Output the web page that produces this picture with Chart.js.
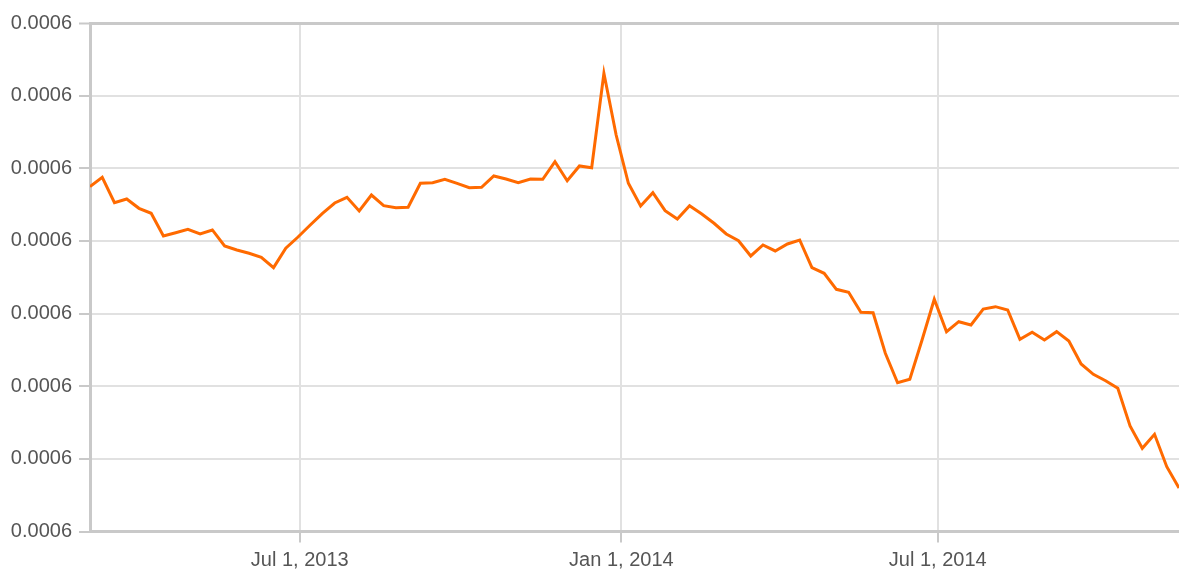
<!DOCTYPE html>
<html>
<head>
<meta charset="utf-8">
<script src="https://cdn.jsdelivr.net/npm/chart.js@4"></script>
<style>
  html, body { margin: 0; padding: 0; background: #fff; }
  #chart { display: block; }
</style>
</head>
<body>
<canvas id="chart" width="1179" height="574"></canvas>
<script>
// weekly series, first week starts Sunday Mar 3, 2013
const startDate = "2013-03-03";
const values = [
  0.00061747, 0.00061876, 0.00061526, 0.00061577, 0.00061449, 0.00061381, 0.00061068, 0.00061113,
  0.00061160, 0.00061096, 0.00061151, 0.00060930, 0.00060875, 0.00060830, 0.00060775, 0.00060632,
  0.00060899, 0.00061054, 0.00061219, 0.00061378, 0.00061522, 0.00061601, 0.00061412, 0.00061632,
  0.00061485, 0.00061458, 0.00061463, 0.00061793, 0.00061802, 0.00061849, 0.00061793, 0.00061733,
  0.00061738, 0.00061894, 0.00061853, 0.00061802, 0.00061853, 0.00061849, 0.00062091, 0.00061829,
  0.00062032, 0.00062008, 0.00063308, 0.00062458, 0.00061793, 0.00061481, 0.00061664, 0.00061416,
  0.00061302, 0.00061485, 0.00061371, 0.00061243, 0.00061096, 0.00061003, 0.00060793, 0.00060944,
  0.00060862, 0.00060958, 0.00061013, 0.00060632, 0.00060554, 0.00060334, 0.00060293, 0.00060018,
  0.00060012, 0.00059453, 0.00059048, 0.00059095, 0.00059636, 0.00060197, 0.00059751, 0.00059888,
  0.00059843, 0.00060063, 0.00060095, 0.00060049, 0.00059646, 0.00059742, 0.00059636, 0.00059751,
  0.00059623, 0.00059306, 0.00059164, 0.00059076, 0.00058971, 0.00058452, 0.00058145, 0.00058338,
  0.00057892, 0.00057599
];
const xTickDates = ["2013-07-01", "2014-01-01", "2014-07-01"];
const xTickLabels = ["Jul 1, 2013", "Jan 1, 2014", "Jul 1, 2014"];
const yTicks = [0.00057, 0.00058, 0.00059, 0.0006, 0.00061, 0.00062, 0.00063, 0.00064];

const DAY = 86400000;
const t0 = Date.parse(startDate);
const weeks = values.map((_, i) => t0 + i * 7 * DAY);
const points = values.map((v, i) => ({ x: weeks[i], y: v }));
const xTicks = xTickDates.map((d) => Date.parse(d));

const textColor = "#555";
const axisColor = "#c9c9c9";
const gridColor = "#e1e1e1";
const font = { family: "'Liberation Sans', Arial, sans-serif", size: 20 };

new Chart(document.getElementById("chart"), {
  type: "line",
  data: {
    datasets: [
      {
        data: points,
        borderColor: "#ff6a00",
        borderWidth: 3,
        pointRadius: 0,
        pointHoverRadius: 0,
        tension: 0,
        fill: false,
      },
    ],
  },
  options: {
    responsive: false,
    devicePixelRatio: 1,
    animation: false,
    layout: { padding: { top: 23, left: 0, right: 0, bottom: 0 } },
    plugins: {
      legend: { display: false },
      tooltip: { enabled: false },
    },
    scales: {
      x: {
        type: "linear",
        min: weeks[0],
        max: weeks[weeks.length - 1],
        afterBuildTicks: (scale) => {
          scale.ticks = xTicks.map((v) => ({ value: v }));
        },
        afterFit: (scale) => {
          scale.height = 42.5;
          scale.paddingLeft = 0;
          scale.paddingRight = 0;
        },
        ticks: {
          color: textColor,
          font: font,
          padding: 6,
          maxRotation: 0,
          autoSkip: false,
          callback: (value) => {
            const i = xTicks.indexOf(value);
            return i >= 0 ? xTickLabels[i] : "";
          },
        },
        grid: {
          color: gridColor,
          lineWidth: 2,
          tickLength: 11,
          tickColor: axisColor,
          tickWidth: 2,
        },
        border: { color: axisColor, width: 3 },
      },
      y: {
        min: yTicks[0],
        max: yTicks[yTicks.length - 1],
        afterBuildTicks: (scale) => {
          scale.ticks = yTicks.map((v) => ({ value: v }));
        },
        afterFit: (scale) => {
          scale.width = 90;
        },
        ticks: {
          color: textColor,
          font: font,
          padding: 7,
          callback: (value) => value.toFixed(4),
        },
        grid: {
          color: (ctx) => (ctx.tick && ctx.tick.value === yTicks[yTicks.length - 1] ? axisColor : gridColor),
          lineWidth: (ctx) => (ctx.tick && ctx.tick.value === yTicks[yTicks.length - 1] ? 3 : 2),
          tickLength: 11,
          tickColor: axisColor,
          tickWidth: 2,
        },
        border: { color: axisColor, width: 3 },
      },
    },
  },
});
</script>
</body>
</html>
